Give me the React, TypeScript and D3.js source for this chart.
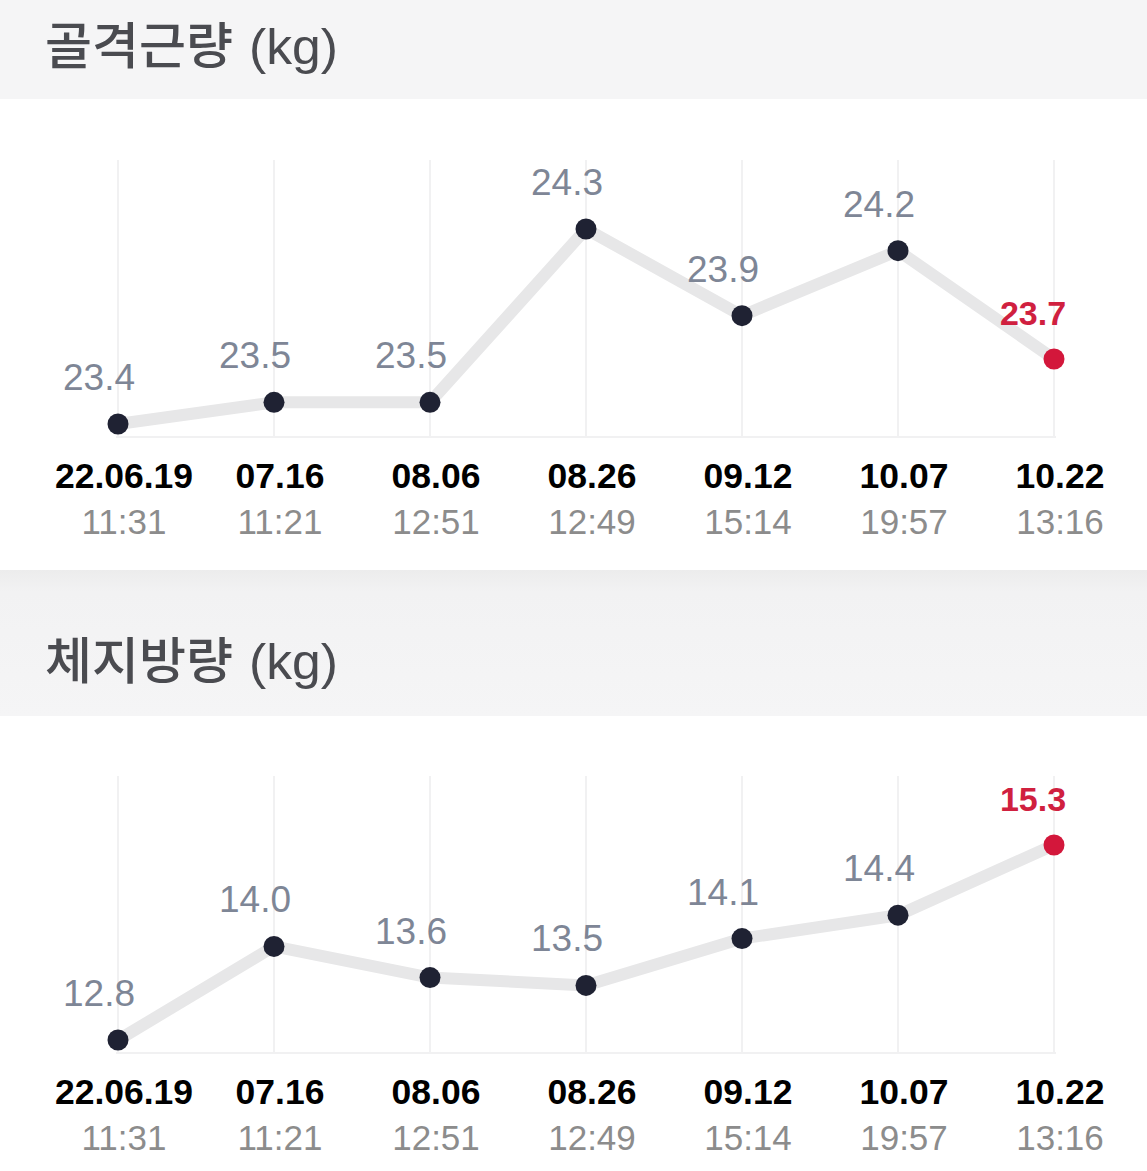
import React from "react";
import * as d3 from "d3";

const dates = ["22.06.19", "07.16", "08.06", "08.26", "09.12", "10.07", "10.22"];
const times = ["11:31", "11:21", "12:51", "12:49", "15:14", "19:57", "13:16"];
const muscleValues = [23.4, 23.5, 23.5, 24.3, 23.9, 24.2, 23.7];
const fatValues = [12.8, 14.0, 13.6, 13.5, 14.1, 14.4, 15.3];
const titles = ["골격근량", "체지방량"];
const unit = "(kg)";

const W = 1147;
const H = 1171;

const x = d3.scalePoint<number>().domain(d3.range(dates.length)).range([118, 1054]);

function Chart({ values, offsetY }: { values: number[]; offsetY: number }) {
  const ext = d3.extent(values) as [number, number];
  const y = d3.scaleLinear().domain(ext).range([424, 229]);
  const line = d3
    .line<number>()
    .x((_, i) => x(i)!)
    .y((v) => y(v));
  const last = values.length - 1;
  return (
    <g transform={`translate(0,${offsetY})`}>
      {values.map((_, i) => (
        <line key={"g" + i} x1={x(i)} x2={x(i)} y1={160} y2={437} stroke="#f1f1f2" strokeWidth={2} />
      ))}
      <line x1={x(0)! - 2} x2={x(last)! + 2} y1={437} y2={437} stroke="#f1f1f2" strokeWidth={2} />
      <path d={line(values) || ""} fill="none" stroke="#e7e7e8" strokeWidth={12} strokeLinejoin="round" strokeLinecap="round" />
      {values.map((v, i) => (
        <circle key={"c" + i} cx={x(i)} cy={y(v)} r={10.5} fill={i === last ? "#d3173b" : "#1f2233"} />
      ))}
      {values.map((v, i) => (
        <text
          key={"t" + i}
          x={x(i)! - (i === last ? 21 : 19)}
          y={y(v) - 34}
          textAnchor="middle"
          fontFamily="'Liberation Sans', Arial, sans-serif"
          fontSize={i === last ? 34 : 37}
          fontWeight={i === last ? 700 : 400}
          fill={i === last ? "#d0203f" : "#7e8696"}
        >
          {v.toFixed(1)}
        </text>
      ))}
      {dates.map((d, i) => (
        <text
          key={"d" + i}
          x={x(i)! + 6}
          y={488}
          textAnchor="middle"
          fontFamily="'Liberation Sans', Arial, sans-serif"
          fontSize={35.5}
          fontWeight={700}
          fill="#000"
        >
          {d}
        </text>
      ))}
      {times.map((t, i) => (
        <text
          key={"h" + i}
          x={x(i)! + 6}
          y={534}
          textAnchor="middle"
          fontFamily="'Liberation Sans', Arial, sans-serif"
          fontSize={35}
          fill="#8c8c8c"
        >
          {t}
        </text>
      ))}
    </g>
  );
}

function Title({ label, y }: { label: string; y: number }) {
  return (
    <g fill="#4a4b50">
      <text
        x={45}
        y={y}
        fontSize={50}
        fontFamily="'Noto Sans CJK KR', 'Noto Sans', sans-serif"
        fontWeight={500}
        textLength={188}
        lengthAdjust="spacingAndGlyphs"
      >
        {label}
      </text>
      <text
        x={249}
        y={y}
        fontSize={50}
        fontFamily="'Liberation Sans', Arial, sans-serif"
        textLength={89}
        lengthAdjust="spacingAndGlyphs"
      >
        {unit}
      </text>
    </g>
  );
}

export default function App() {
  return (
    <svg
      width={W}
      height={H}
      viewBox={`0 0 ${W} ${H}`}
      style={{ position: "absolute", left: 0, top: 0, display: "block" }}
    >
      <defs>
        <linearGradient id="hdr" x1="0" y1="0" x2="0" y2="1">
          <stop offset="0" stopColor="#ececec" />
          <stop offset="0.15" stopColor="#f2f2f3" />
          <stop offset="1" stopColor="#f5f5f6" />
        </linearGradient>
      </defs>
      <rect x={0} y={0} width={W} height={H} fill="#ffffff" />
      <rect x={0} y={0} width={W} height={99} fill="#f5f5f6" />
      <rect x={0} y={570} width={W} height={146} fill="url(#hdr)" />
      <Title label={titles[0]} y={64} />
      <Title label={titles[1]} y={679} />
      <Chart values={muscleValues} offsetY={0} />
      <Chart values={fatValues} offsetY={616} />
    </svg>
  );
}
